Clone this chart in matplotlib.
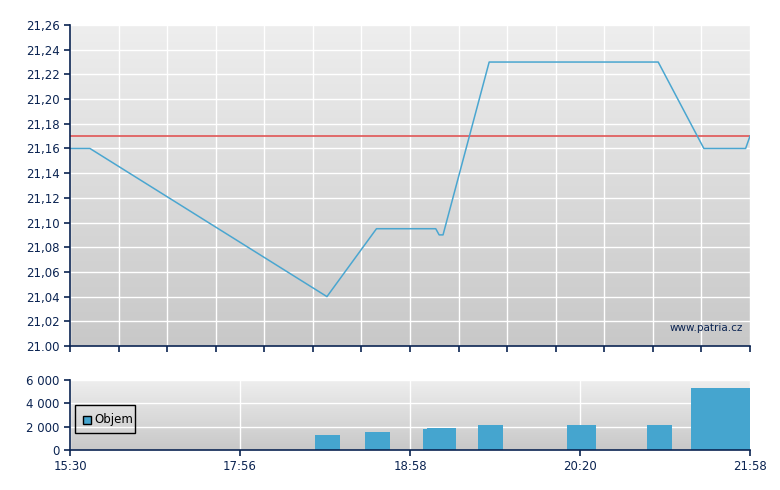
import matplotlib
matplotlib.use("Agg")
import matplotlib.pyplot as plt
import numpy as np
from matplotlib.patches import Rectangle
from matplotlib.colors import LinearSegmentedColormap

# x positions are in chart units (0..14), the time axis is compressed
price_x = [0.0, 0.41, 5.29, 6.31, 7.53, 7.60, 7.68, 8.63, 12.11, 13.05, 13.91, 14.0]
price_y = [21.16, 21.16, 21.04, 21.095, 21.095, 21.09, 21.09, 21.23, 21.23, 21.16, 21.16, 21.17]
ref_price = 21.17

vol_x = [5.04, 6.07, 7.27, 7.35, 8.40, 10.23, 11.88, 12.79]
vol_w = [0.51, 0.51, 0.60, 0.60, 0.51, 0.60, 0.51, 1.21]
vol_y = [1300, 1550, 1800, 1900, 2150, 2150, 2150, 5300]

price_ticks = [21.00, 21.02, 21.04, 21.06, 21.08, 21.10, 21.12, 21.14, 21.16, 21.18, 21.20, 21.22, 21.24, 21.26]
price_labels = ["21.00", "21,02", "21,04", "21,06", "21,08", "21,10", "21,12", "21,14", "21,16",
                "21,18", "21,20", "21,22", "21,24", "21,26"]
time_ticks = [0, 3.5, 7, 10.5, 14]
time_labels = ["15:30", "17:56", "18:58", "20:20", "21:58"]
vol_ticks = [0, 2000, 4000, 6000]
vol_labels = ["0", "2 000", "4 000", "6 000"]

navy = "#0b2452"
line_c = "#4aa6d0"
bar_c = "#45a5cf"

fig = plt.figure(figsize=(7.8, 4.9), dpi=100)
ax1 = fig.add_axes([70/780, 144/490, 680/780, 321/490])
ax2 = fig.add_axes([70/780, 40/490, 680/780, 70/490])

grad = np.linspace(0, 1, 256).reshape(-1, 1)
cmap = LinearSegmentedColormap.from_list("g", ["#c8c8c8", "#eeeeee"])

for ax in (ax1, ax2):
    ax.imshow(grad, aspect="auto", cmap=cmap, origin="lower",
              extent=[0, 1, 0, 1], transform=ax.transAxes, zorder=0)
    for s in ("top", "right"):
        ax.spines[s].set_visible(False)
    for s in ("left", "bottom"):
        ax.spines[s].set_color(navy)
        ax.spines[s].set_linewidth(1.2)
        ax.spines[s].set_zorder(5)
    ax.tick_params(colors=navy, labelcolor=navy, direction="out", length=4, width=1.2,
                   labelsize=8.5)
    ax.grid(True, color="white", linewidth=1.0, zorder=1)
    ax.set_axisbelow(False)

# price chart
ax1.set_xlim(0, 14)
ax1.set_ylim(21.00, 21.26)
ax1.set_xticks(np.arange(0, 15, 1))
ax1.set_xticklabels([])
ax1.set_yticks(price_ticks)
ax1.set_yticklabels(price_labels)
ax1.axhline(ref_price, color="#e05555", linewidth=1.2, zorder=3)
ax1.plot(price_x, price_y, color=line_c, linewidth=1.1, zorder=4)
ax1.text(0.99, 0.055, "www.patria.cz", transform=ax1.transAxes, ha="right", va="center",
         color=navy, fontsize=7.5, zorder=5)

# volume chart
ax2.set_xlim(0, 14)
ax2.set_ylim(0, 6000)
ax2.set_xticks(time_ticks)
ax2.set_xticklabels(time_labels)
ax2.set_yticks(vol_ticks)
ax2.set_yticklabels(vol_labels)
ax2.bar(vol_x, vol_y, width=vol_w, align="edge", color=bar_c, zorder=3, linewidth=0)

# legend box drawn by hand
ax2.add_patch(Rectangle((5/680, 17/70), 60/680, 28/70, transform=ax2.transAxes,
                        facecolor="none", edgecolor="black", linewidth=1, zorder=6,
                        clip_on=False))
ax2.add_patch(Rectangle((13/680, 26.5/70), 8/680, 8/70, transform=ax2.transAxes,
                        facecolor=bar_c, edgecolor="black", linewidth=1, zorder=7,
                        clip_on=False))
ax2.text(24.5/680, 31/70, "Objem", transform=ax2.transAxes, ha="left", va="center",
         fontsize=8.5, color="black", zorder=7)

fig.savefig("out.png", dpi=100)
